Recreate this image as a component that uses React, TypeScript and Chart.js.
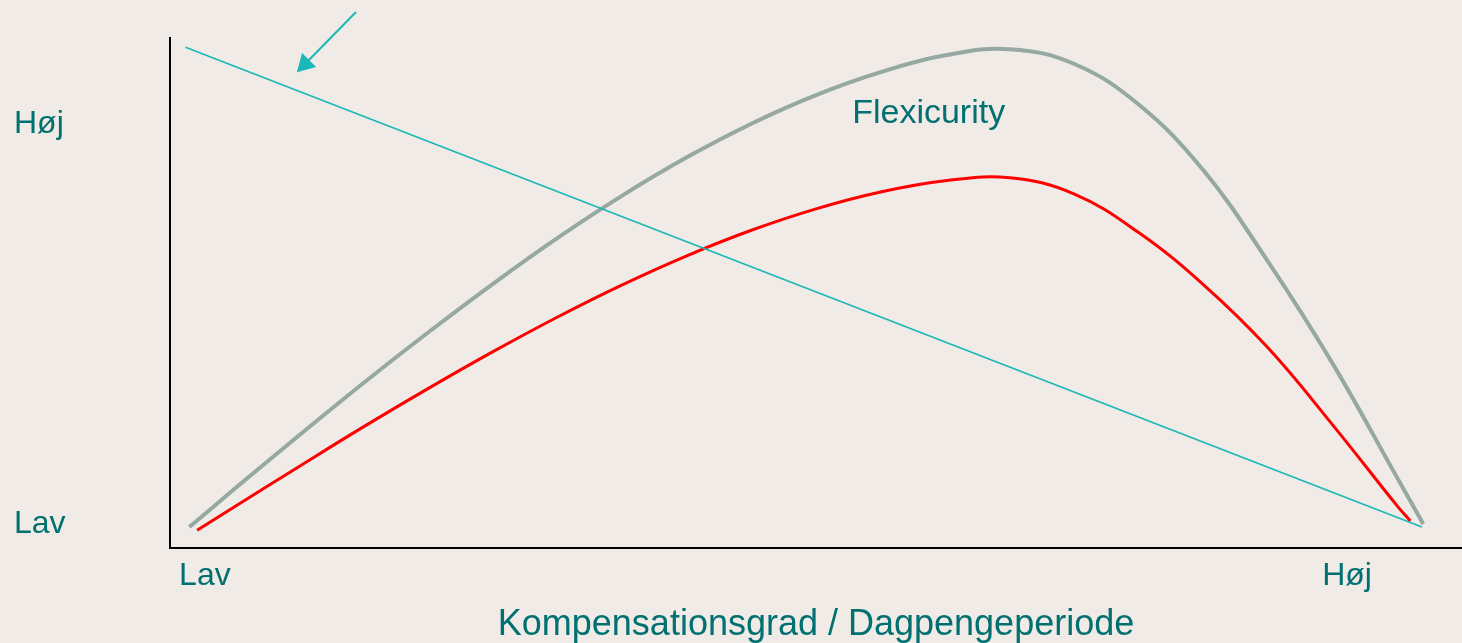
import React, { useEffect, useRef } from "react";
import { Chart, registerables } from "chart.js";

Chart.register(...registerables);

// ---- data (x: 0..100 compensation level, y: 0..100 level) ----
const cyanX = [1.2, 96.9];
const cyanY = [98.2, 4.1];

const grayX = [1.5, 5, 10, 15, 20, 25, 30, 35, 40, 45, 50, 55, 60, 65, 70, 75, 80, 85, 90, 95, 97];
const grayY = [4.1, 11.6, 22.1, 32.4, 42.3, 51.8, 60.8, 69.1, 76.6, 83.2, 88.8, 93.3, 96.6, 97.8, 94.9, 86.9, 74.0, 56.1, 36.1, 13.7, 4.7];

const redX = [2.1, 5, 10, 15, 20, 25, 30, 35, 40, 45, 50, 55, 60, 65, 70, 75, 80, 85, 90, 95, 96];
const redY = [3.5, 8.1, 16.0, 23.8, 31.3, 38.5, 45.3, 51.6, 57.3, 62.3, 66.5, 69.8, 72.0, 72.6, 69.4, 61.8, 51.6, 39.2, 24.1, 8.2, 5.3];

const arrowX = [14.4, 10.45];
const arrowY = [105.1, 94.9];

const xTickValues = [2.7, 91.1];
const xTickLabels = ["Lav", "Høj"];
const yTickValues = [4.7, 83.1];
const yTickLabels = ["Lav", "Høj"];

const xTitle = "Kompensationsgrad / Dagpengeperiode";
const curveLabel = "Flexicurity";
const curveLabelPos = [52.8, 83.3];

const TEAL = "#007070";
const CYAN = "#1AB8B6";
const GRAY = "#95A8A2";
const RED = "#FF0000";
const BG = "#F0EBE7";
const FONT = "'Liberation Sans', Arial, sans-serif";

const zip = (xs: number[], ys: number[]) => xs.map((x, i) => ({ x, y: ys[i] }));

const labelPlugin = {
  id: "curveLabel",
  afterDatasetsDraw(chart: any) {
    const { ctx, scales } = chart;
    ctx.save();
    ctx.font = `34px ${FONT}`;
    ctx.fillStyle = TEAL;
    ctx.textAlign = "left";
    ctx.textBaseline = "alphabetic";
    ctx.fillText(
      curveLabel,
      scales.x.getPixelForValue(curveLabelPos[0]),
      scales.y.getPixelForValue(curveLabelPos[1])
    );
    ctx.restore();
  },
};

export default function App() {
  const ref = useRef<HTMLCanvasElement>(null);

  useEffect(() => {
    if (!ref.current) return;
    const chart = new Chart(ref.current, {
      type: "line",
      data: {
        datasets: [
          {
            data: zip(arrowX, arrowY),
            borderColor: CYAN,
            backgroundColor: CYAN,
            borderWidth: 2,
            pointStyle: "triangle",
            pointRadius: [0, 11.5],
            pointRotation: 225,
            pointBorderWidth: 0,
            clip: false,
          } as any,
          {
            data: zip(cyanX, cyanY),
            borderColor: CYAN,
            borderWidth: 1.6,
            pointRadius: 0,
          },
          {
            data: zip(redX, redY),
            borderColor: RED,
            borderWidth: 3,
            pointRadius: 0,
            tension: 0.4,
          },
          {
            data: zip(grayX, grayY),
            borderColor: GRAY,
            borderWidth: 4,
            pointRadius: 0,
            tension: 0.4,
          },
        ],
      },
      options: {
        animation: false,
        responsive: false,
        layout: { autoPadding: false, padding: { left: 14, top: 38, right: 0, bottom: 0 } },
        plugins: { legend: { display: false }, tooltip: { enabled: false } },
        scales: {
          x: {
            type: "linear",
            min: 0,
            max: 100,
            grid: { display: false, drawTicks: false },
            border: { display: true, color: "#000", width: 2 },
            afterBuildTicks: (s: any) => {
              s.ticks = xTickValues.map((v) => ({ value: v }));
            },
            afterFit: (s: any) => {
              s.height = 95;
              s.paddingLeft = 0;
              s.paddingRight = 0;
            },
            ticks: {
              autoSkip: false,
              maxRotation: 0,
              padding: 9,
              color: TEAL,
              font: { family: FONT, size: 32 },
              callback: (_v: any, i: number) => xTickLabels[i],
            },
            title: {
              display: true,
              text: xTitle,
              color: TEAL,
              font: { family: FONT, size: 36, lineHeight: 1 },
              padding: { top: 0, bottom: 0 },
            },
          },
          y: {
            type: "linear",
            min: 0,
            max: 100,
            grid: { display: false, drawTicks: false },
            border: { display: true, color: "#000", width: 2 },
            afterBuildTicks: (s: any) => {
              s.ticks = yTickValues.map((v) => ({ value: v }));
            },
            afterFit: (s: any) => {
              s.width = 156;
              s.paddingTop = 0;
              s.paddingBottom = 0;
            },
            ticks: {
              autoSkip: false,
              crossAlign: "far",
              color: TEAL,
              font: { family: FONT, size: 32 },
              callback: (_v: any, i: number) => yTickLabels[i],
            },
          },
        },
      },
      plugins: [labelPlugin],
    });
    return () => chart.destroy();
  }, []);

  return (
    <div style={{ position: "fixed", left: 0, top: 0, width: 1462, height: 643, background: BG }}>
      <canvas ref={ref} width={1462} height={643} />
    </div>
  );
}
